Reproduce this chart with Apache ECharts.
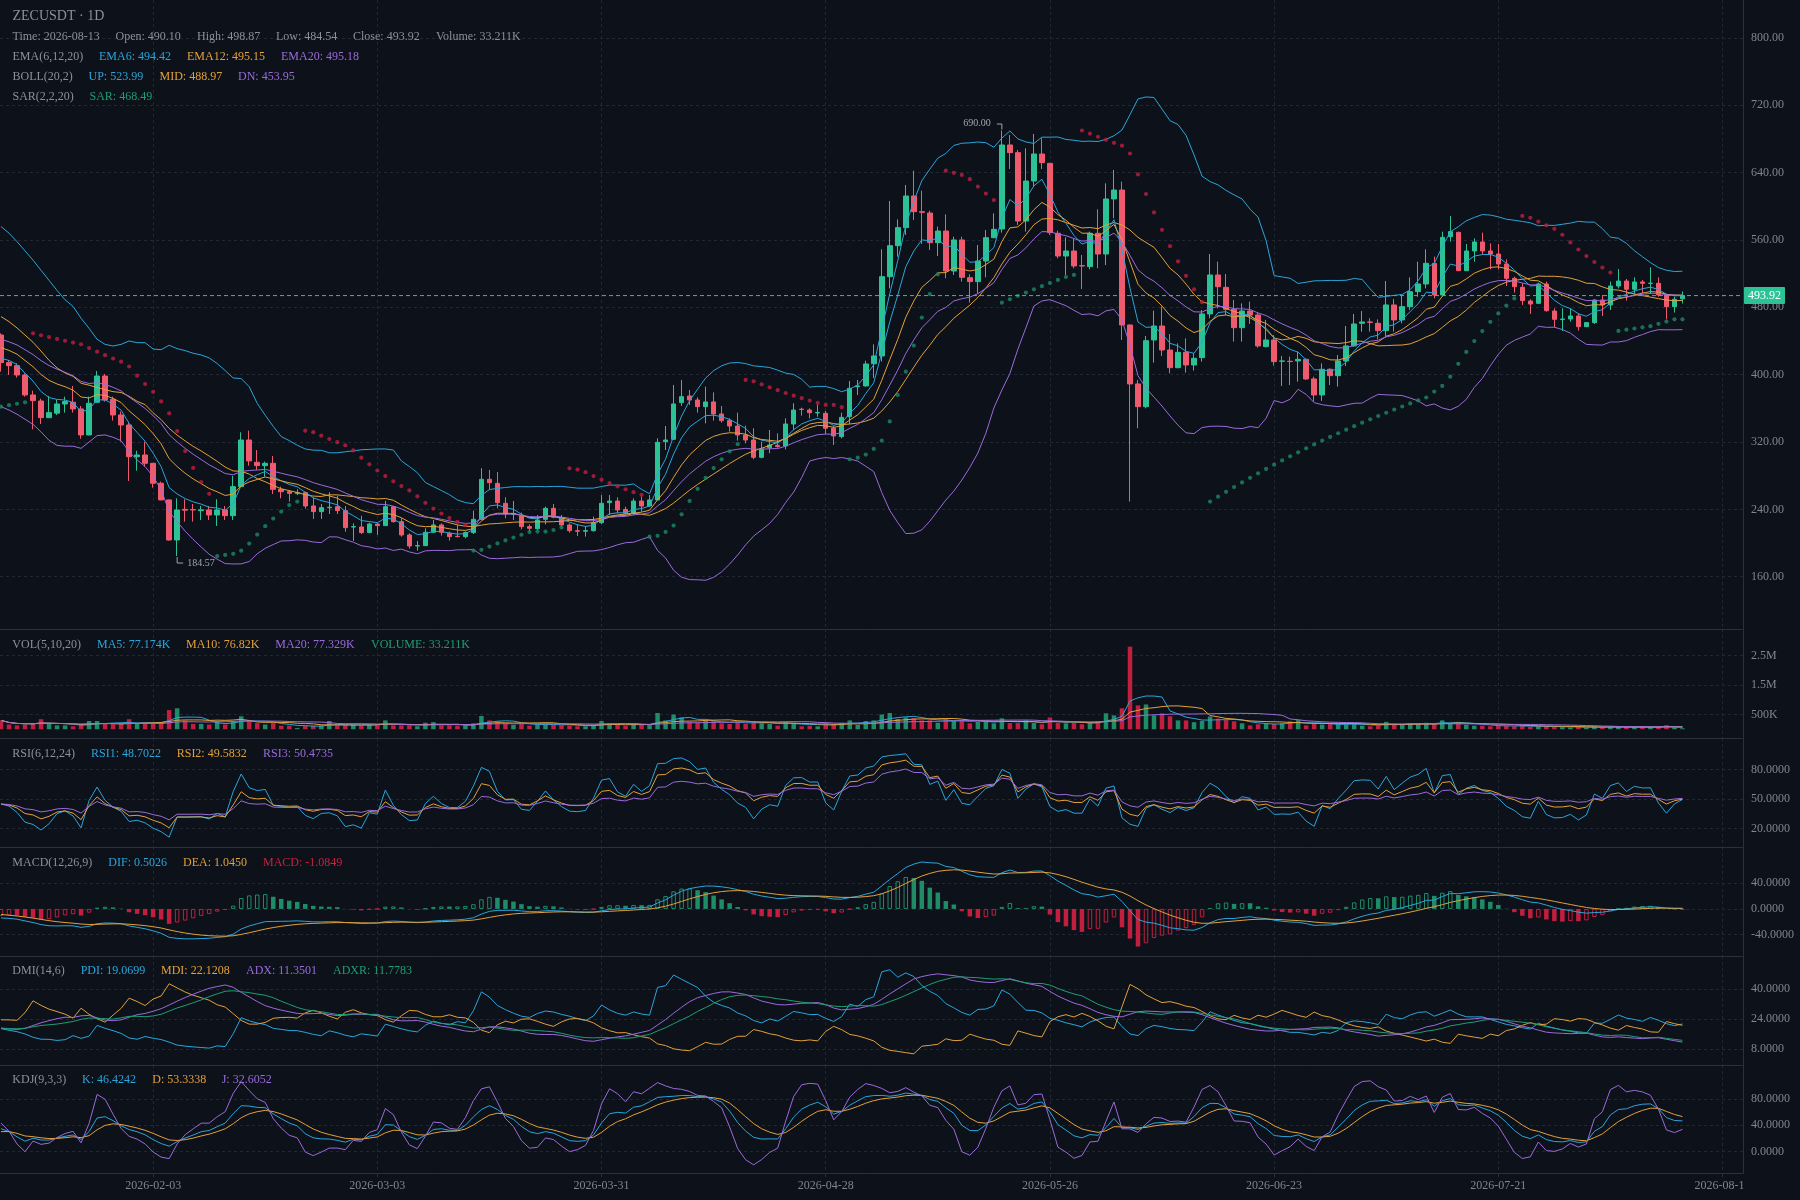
<!DOCTYPE html>
<html><head><meta charset="utf-8">
<script src="https://cdn.jsdelivr.net/npm/echarts@6/dist/echarts.min.js"></script>
<style>html,body{margin:0;padding:0;background:#0d111a;}#c{width:1800px;height:1200px;}</style>
</head><body><div id="c"></div>
<script>
// ---------------- DATA ----------------
const startDate = '2026-01-15';
const xTickLabels = ['2026-02-03','2026-03-03','2026-03-31','2026-04-28','2026-05-26','2026-06-23','2026-07-21','2026-08-18'];

const open = [447.1,414.3,410.7,399.6,375.9,368.7,348.9,354.3,365.2,367.2,359.3,328.4,367.2,398.4,370.7,352.1,340.2,302.6,304.6,294.7,
271.0,251.2,203.6,240.0,239.8,238.5,239.3,233.3,239.3,232.5,267.0,322.4,295.9,291.9,294.7,263.8,261.0,258.7,259.9,244.0,
237.3,242.0,243.2,238.5,219.0,219.1,212.4,222.6,220.7,243.2,225.4,209.6,196.5,196.9,212.8,221.5,211.6,208.0,207.6,212.4,
228.2,275.7,270.9,247.2,234.0,232.2,219.5,217.1,228.2,241.2,230.2,221.5,214.7,214.0,214.7,224.2,248.0,249.9,240.0,235.3,
249.9,244.0,251.2,320.4,323.2,366.8,374.7,369.9,362.0,367.6,353.3,345.4,339.0,328.3,322.4,301.8,313.3,316.1,315.3,341.4,
359.0,358.0,354.5,354.1,336.3,326.4,350.1,385.7,386.6,413.0,422.2,516.4,553.2,574.6,612.2,593.6,592.0,556.8,570.6,523.1,
560.0,515.2,510.5,535.0,562.7,573.0,672.8,663.7,582.5,630.0,662.1,651.0,567.9,540.9,546.9,529.5,528.3,567.9,543.3,608.7,
619.3,459.0,389.0,362.0,441.2,457.8,429.3,408.3,426.5,411.5,420.2,472.1,518.4,503.7,477.6,455.8,475.6,470.9,433.3,441.2,
415.9,415.9,416.3,418.2,394.9,375.9,406.4,398.8,416.3,434.1,461.0,462.6,461.0,452.3,482.8,465.0,480.8,498.6,507.7,532.2,
494.6,563.9,569.0,523.5,546.9,557.6,546.9,543.3,531.4,514.4,503.7,487.5,484.7,507.7,475.6,465.4,466.1,469.7,457.0,461.8,
488.7,482.8,505.3,511.2,501.4,510.1,508.3,508.5,494.6,480.8,490.10];

const close = [414.3,410.7,399.6,375.9,369.1,348.9,354.9,365.2,368.0,359.3,328.4,366.0,398.4,369.9,352.1,340.2,302.6,304.6,294.7,271.0,
251.2,203.6,239.3,239.0,239.3,239.5,233.3,239.3,232.5,267.0,322.4,297.5,291.9,294.7,263.8,261.0,259.0,259.8,244.0,237.3,
242.0,242.5,238.5,218.3,219.5,212.4,222.6,220.7,243.2,225.4,209.6,196.5,197.0,212.8,221.5,212.8,207.6,207.6,212.4,228.2,
275.7,271.7,248.0,234.5,235.0,219.5,217.5,227.4,241.2,230.6,221.5,214.7,214.0,214.8,224.2,247.2,249.9,239.3,235.3,249.9,
244.0,251.2,319.6,322.4,365.2,373.9,369.9,362.0,367.6,353.3,345.4,339.0,328.3,322.4,301.8,311.7,316.5,314.5,341.4,358.0,
358.6,354.9,355.0,336.3,327.2,349.3,383.8,386.6,412.7,422.2,516.4,553.2,574.6,612.2,593.6,592.8,556.8,570.6,523.1,560.0,
515.6,510.5,535.0,562.7,572.6,672.8,663.7,582.5,630.0,662.1,651.8,568.7,540.9,546.9,529.1,529.1,567.9,543.3,608.7,619.3,
459.0,389.0,362.0,440.4,457.8,429.3,408.3,426.5,411.5,419.4,472.1,518.4,504.5,477.6,455.8,475.6,470.9,434.1,441.2,415.5,
416.3,415.5,418.2,394.9,375.9,406.4,398.8,416.3,434.1,460.2,462.6,462.2,452.3,482.8,465.0,480.8,498.6,507.7,532.2,494.6,
563.1,569.9,523.5,546.9,557.6,546.9,543.3,531.4,514.4,504.5,487.9,483.9,507.7,476.0,465.7,466.1,469.7,457.0,461.8,488.7,
482.8,505.3,511.2,501.4,510.1,508.5,508.7,494.6,480.8,489.5,493.92];

const high = [449.1,417.4,413.5,401.6,381.0,371.5,374.7,370.0,373.9,386.6,362.8,373.9,404.4,400.8,373.9,356.1,344.2,309.7,320.4,295.1,
273.0,251.6,253.1,252.0,246.4,244.0,244.0,252.0,244.0,279.7,331.5,333.5,310.5,296.7,303.4,267.0,263.0,263.8,261.0,253.9,
246.4,260.3,256.3,244.0,223.4,232.5,224.2,223.4,250.0,243.6,229.4,211.6,202.5,217.5,227.4,223.4,213.6,221.5,214.0,238.5,
288.8,286.8,284.4,254.3,250.0,236.1,222.2,233.3,243.2,246.4,233.3,223.4,222.2,220.3,231.4,257.0,257.0,254.3,243.2,253.1,
255.0,257.0,324.4,339.0,387.7,393.7,381.8,373.1,385.7,379.0,362.8,348.1,354.9,339.4,336.3,320.4,334.3,330.3,348.1,366.0,
360.8,360.0,364.0,356.9,339.0,354.9,392.5,393.7,416.6,436.0,548.9,606.3,584.5,625.3,642.3,618.5,594.8,575.8,590.4,563.9,
563.9,519.2,554.0,571.8,591.6,690.0,684.7,666.9,668.8,685.9,680.7,651.4,571.0,563.1,561.9,542.1,569.9,596.4,627.3,643.1,
629.2,459.4,393.7,446.0,476.0,480.8,448.3,437.2,443.2,425.4,476.8,543.3,534.2,519.6,488.7,484.7,486.7,473.7,465.0,447.1,
422.2,421.4,427.3,419.4,397.6,413.5,407.5,423.4,457.8,472.1,475.6,467.0,465.7,511.3,489.9,494.6,515.6,534.2,548.9,540.2,
569.9,588.5,569.9,555.2,561.9,568.7,556.0,555.2,537.0,516.4,508.5,489.5,509.3,510.5,478.8,478.8,478.8,472.9,462.5,489.5,
494.6,510.5,525.5,513.6,515.6,512.4,527.5,515.6,495.4,492.6,498.87];

const low = [403.6,399.6,396.5,373.9,335.1,341.4,348.5,352.1,354.9,354.9,323.9,328.0,366.8,368.0,345.4,320.4,273.7,286.0,290.8,265.8,
250.8,202.8,184.57,225.4,225.4,227.4,227.4,220.3,227.4,227.4,266.6,291.9,286.8,278.9,258.3,253.1,249.2,257.0,240.8,228.6,
228.6,234.5,234.5,213.5,202.5,210.8,211.6,209.6,220.3,224.2,207.6,193.4,191.0,196.5,212.4,208.8,202.9,206.8,205.6,210.8,
227.4,263.0,241.2,229.4,227.4,216.3,213.6,215.5,222.2,229.4,219.5,212.4,208.4,207.6,213.5,222.6,233.3,235.3,233.3,233.3,
237.3,243.2,251.2,310.5,322.4,362.8,364.0,354.9,342.2,345.4,343.0,332.3,321.6,318.5,299.5,300.6,306.6,313.3,311.3,334.3,
351.3,348.1,350.1,329.5,316.5,324.4,341.4,375.8,385.7,396.0,415.5,502.5,540.2,565.9,583.7,555.2,548.1,541.0,514.4,518.4,
510.5,485.5,496.6,515.6,562.0,568.7,644.3,577.8,569.9,623.3,644.3,565.9,538.2,518.4,526.3,501.8,525.1,526.3,530.2,585.7,
441.2,249.2,336.3,360.0,414.3,422.2,401.6,407.5,402.4,404.8,415.5,467.0,478.8,470.9,439.2,439.2,460.2,432.1,432.5,410.7,
386.6,387.7,391.7,393.7,368.0,368.8,387.7,385.8,410.3,433.3,451.1,451.1,442.0,446.0,451.1,461.0,476.8,492.6,502.5,490.7,
492.6,558.0,523.1,523.1,534.2,542.1,525.1,525.1,505.3,497.4,482.8,472.1,483.9,474.8,456.2,451.9,463.0,452.3,456.6,460.2,
469.7,476.8,502.5,487.9,495.8,496.6,495.8,492.6,465.7,473.7,484.54];

// volume in thousands
const volumeK = [300,160,130,160,180,340,180,130,130,100,130,280,280,180,180,180,340,180,220,180,
220,650,710,300,180,180,160,280,160,280,440,280,210,160,210,120,120,40,120,120,
130,280,130,160,160,130,160,130,300,130,130,130,100,220,240,130,130,120,130,200,
450,300,280,200,150,180,120,150,200,150,140,120,100,100,150,280,200,180,120,180,
150,140,550,300,500,400,250,220,300,280,200,180,250,180,280,200,180,120,250,220,
100,120,100,200,180,220,300,150,280,300,500,550,350,400,380,300,300,220,350,280,
300,200,250,280,200,370,210,210,300,210,170,400,220,200,220,170,210,270,540,470,
710,2800,810,840,470,540,440,300,300,240,280,430,360,310,270,200,130,170,200,180,
210,270,310,130,180,160,180,160,170,200,120,100,120,250,180,150,200,180,220,200,
300,180,250,150,120,120,100,120,120,100,120,80,100,100,80,70,60,80,50,90,
70,90,75,80,70,72,70,80,140,60,33.211];

// Indicator state at the first visible candle
const bollUpHead = [576,568,558,547,536,524,512,500,489,481,467,455,442,436,434,436,440,438,438];
const bollDnHead = [362,358,353,347,341,332,322,316,315,315,312.5,320,327.6,328.4,325.6,321.6,308.6,298.7,290.8];
const emaSeed = {e6:419.4, e12:432.1, e20:442.0, e26:446.1, dea:-8.5};
const sarSeed = {sar:362, ep:449.1, af:0.02, up:true};
const rsiSeed = {up:6.5, dn:8};
const kdjSeed = {k:34.8, d:30.4};
const dmiSeed = {tr:420, pdm:79, mdm:99, adx:19.1};

// axis tick values
const priceTicks = [160,240,320,400,480,560,640,720,800];
const volTicks = [500000,1500000,2500000];
const rsiTicks = [20,50,80];
const macdTicks = [-40,0,40];
const dmiTicks = [8,24,40];
const kdjTicks = [0,40,80];

const legendRows = [
  {y:16, size:14, items:[['ZECUSDT · 1D',12.5,'t']]},
  {y:36.7, items:[['Time: 2026-08-13',12.5,'t'],['Open: 490.10',115.5,'t'],['High: 498.87',197,'t'],['Low: 484.54',276,'t'],['Close: 493.92',353,'t'],['Volume: 33.211K',436,'t']]},
  {y:56.7, items:[['EMA(6,12,20)',12.5,'t'],['EMA6: 494.42',99,'b'],['EMA12: 495.15',187,'o'],['EMA20: 495.18',281,'p']]},
  {y:76.7, items:[['BOLL(20,2)',12.5,'t'],['UP: 523.99',88.5,'b'],['MID: 488.97',159.5,'o'],['DN: 453.95',238,'p']]},
  {y:96.7, items:[['SAR(2,2,20)',12.5,'t'],['SAR: 468.49',89.5,'g']]},
  {y:645, items:[['VOL(5,10,20)',12.3,'t'],['MA5: 77.174K',97,'b'],['MA10: 76.82K',186,'o'],['MA20: 77.329K',275.3,'p'],['VOLUME: 33.211K',371,'g']]},
  {y:753.7, items:[['RSI(6,12,24)',12.3,'t'],['RSI1: 48.7022',91,'b'],['RSI2: 49.5832',176.7,'o'],['RSI3: 50.4735',263,'p']]},
  {y:862.5, items:[['MACD(12,26,9)',12.3,'t'],['DIF: 0.5026',108.3,'b'],['DEA: 1.0450',183,'o'],['MACD: -1.0849',263,'r']]},
  {y:971.3, items:[['DMI(14,6)',12.3,'t'],['PDI: 19.0699',80.7,'b'],['MDI: 22.1208',161,'o'],['ADX: 11.3501',246,'p'],['ADXR: 11.7783',333,'g']]},
  {y:1080, items:[['KDJ(9,3,3)',12.3,'t'],['K: 46.4242',82,'b'],['D: 53.3338',152.3,'o'],['J: 32.6052',221.7,'p']]}
];

// ---------------- STYLE ----------------
const UP='#2CC295', DN='#EF5A6F', VUP='#1F8C68', VDN='#C21E3E';
const BLUE='#2BA5DA', ORANGE='#E3A13A', PURPLE='#9B6BDB', GREEN='#1F9E74', RED='#C8203F';
const TXT='#8B909B', AX='#7F8591', BG='#0D111A', GRIDC='#222733', SEP='#2B303B';
const FONT='Liberation Serif';
const COLMAP = {t:TXT,b:BLUE,o:ORANGE,p:PURPLE,g:GREEN,r:RED};

// ---------------- INDICATORS (derived from the candles) ----------------
const N = close.length;
const volume = volumeK.map(v=>v*1000);
function emaCalc(src,n,seed){const out=[];let e=seed;for(let i=0;i<src.length;i++){if(i>0)e=(2*src[i]+(n-1)*e)/(n+1);out.push(e);}return out;}
const ema6=emaCalc(close,6,emaSeed.e6), ema12=emaCalc(close,12,emaSeed.e12), ema20=emaCalc(close,20,emaSeed.e20);
const ema26=emaCalc(close,26,emaSeed.e26);

const bollUp=[],bollMid=[],bollDn=[];
for(let i=0;i<N;i++){
  if(i<19){bollUp.push(bollUpHead[i]);bollDn.push(bollDnHead[i]);bollMid.push((bollUpHead[i]+bollDnHead[i])/2);continue;}
  let s=0;for(let k=i-19;k<=i;k++)s+=close[k];const m=s/20;
  let v=0;for(let k=i-19;k<=i;k++)v+=(close[k]-m)*(close[k]-m);const sd=Math.sqrt(v/20);
  bollMid.push(m);bollUp.push(m+2*sd);bollDn.push(m-2*sd);
}

const sarVal=[],sarUp=[];
{let up=sarSeed.up,sar=sarSeed.sar,ep=sarSeed.ep,af=sarSeed.af;sarVal.push(sar);sarUp.push(up);
 for(let i=1;i<N;i++){let s=sar+af*(ep-sar);
  if(up){s=Math.min(s,low[i-1],low[Math.max(0,i-2)]);
    if(low[i]<s){up=false;s=ep;ep=low[i];af=0.02;} else if(high[i]>ep){ep=high[i];af=Math.min(af+0.02,0.2);} }
  else{s=Math.max(s,high[i-1],high[Math.max(0,i-2)]);
    if(high[i]>s){up=true;s=ep;ep=high[i];af=0.02;} else if(low[i]<ep){ep=low[i];af=Math.min(af+0.02,0.2);} }
  sar=s;sarVal.push(sar);sarUp.push(up);}
}

function maCalc(src,n){const out=[];for(let i=0;i<src.length;i++){let s=0,c=0;for(let k=Math.max(0,i-n+1);k<=i;k++){s+=src[k];c++;}out.push(s/c);}return out;}
const vma5=maCalc(volume,5), vma10=maCalc(volume,10), vma20=maCalc(volume,20);

// RSI with SMA(N,1) smoothing
function rsiCalc(n){const out=[];let u=rsiSeed.up,d=rsiSeed.dn;
  for(let i=0;i<N;i++){if(i>0){const t=close[i]-close[i-1];u=(Math.max(t,0)+(n-1)*u)/n;d=(Math.max(-t,0)+(n-1)*d)/n;}
    out.push(u+d===0?0:100*u/(u+d));}return out;}
const rsi1=rsiCalc(6), rsi2=rsiCalc(12), rsi3=rsiCalc(24);

const dif=[],dea=[],macd=[];
for(let i=0;i<N;i++){const d=ema12[i]-ema26[i];dif.push(d);const e=i===0?emaSeed.dea:(2*d+8*dea[i-1])/10;dea.push(e);macd.push((d-e)*2);}

const pdi=[],mdi=[],adx=[],adxr=[];
{let mtr=dmiSeed.tr,dmp=dmiSeed.pdm,dmm=dmiSeed.mdm,ax=dmiSeed.adx;
 for(let i=0;i<N;i++){
  if(i>0){const pc=close[i-1],h=high[i],l=low[i];
   const tr=Math.max(h-l,Math.abs(h-pc),Math.abs(pc-l));const hhy=h-high[i-1],lyl=low[i-1]-l;
   const pd=(hhy>0&&hhy>lyl)?hhy:0, md=(lyl>0&&lyl>hhy)?lyl:0;
   mtr=mtr-mtr/14+tr;dmp=dmp-dmp/14+pd;dmm=dmm-dmm/14+md;}
  const p=dmp*100/mtr,m=dmm*100/mtr;pdi.push(p);mdi.push(m);
  if(i>0){const dx=(p+m)===0?0:Math.abs(m-p)/(p+m)*100;ax=(ax*13+dx)/14;}
  adx.push(ax);adxr.push((ax+(i>=5?adx[i-5]:dmiSeed.adx))/2);
 }}

const kK=[],kD=[],kJ=[];
for(let i=0;i<N;i++){
  if(i===0){kK.push(kdjSeed.k);kD.push(kdjSeed.d);kJ.push(3*kdjSeed.k-2*kdjSeed.d);continue;}
  let hh=-Infinity,ll=Infinity;for(let k=Math.max(0,i-8);k<=i;k++){hh=Math.max(hh,high[k]);ll=Math.min(ll,low[k]);}
  const rsv=hh===ll?0:(close[i]-ll)/(hh-ll)*100;const K=(2*kK[i-1]+rsv)/3;const D=(2*kD[i-1]+K)/3;
  kK.push(K);kD.push(D);kJ.push(3*K-2*D);
}

// ---------------- CHART ----------------
const DAY=86400000, t0=Date.parse(startDate);
const tickIdx = xTickLabels.map(s=>Math.round((Date.parse(s)-t0)/DAY));
function dateOf(i){return new Date(t0+Math.round(i)*DAY).toISOString().slice(0,10);}
const pts = a => a.map((v,i)=>[i,v]);

const panels = [
  {top:0,height:629,min:97.9,max:845,ticks:priceTicks,fmt:v=>v.toFixed(2)},
  {top:629,height:109,min:-297000,max:3398000,ticks:volTicks,fmt:v=>v>=1e6?(v/1e6)+'M':(v/1e3)+'K'},
  {top:738,height:109,min:1.0,max:112.2,ticks:rsiTicks,fmt:v=>v.toFixed(4)},
  {top:847,height:109,min:-73.1,max:96.2,ticks:macdTicks,fmt:v=>v.toFixed(4)},
  {top:956,height:109,min:-0.6,max:57.7,ticks:dmiTicks,fmt:v=>v.toFixed(4)},
  {top:1065,height:108,min:-32.5,max:131.7,ticks:kdjTicks,fmt:v=>v.toFixed(4)}
];
const PLOT_W=1743;
const X_MIN=-0.125, X_MAX=217.56;

const grid = panels.map(p=>({left:0,top:p.top,width:PLOT_W,height:p.height}));
const xAxis = panels.map((p,k)=>({type:'value',gridIndex:k,min:X_MIN,max:X_MAX,
  axisLine:{show:true,onZero:false,lineStyle:{color:SEP,width:1}},
  axisTick:{show:k===5,length:4,customValues:tickIdx,lineStyle:{color:SEP}},
  axisLabel:{show:k===5,customValues:tickIdx,formatter:v=>dateOf(v),color:AX,fontSize:12,fontFamily:FONT,margin:7},
  splitLine:{show:true,lineStyle:{color:GRIDC,type:[3,3]}}}));
const yAxis = panels.map((p,k)=>({type:'value',gridIndex:k,position:'right',min:p.min,max:p.max,
  axisLine:{show:true,onZero:false,lineStyle:{color:SEP,width:1}},
  axisTick:{show:false,customValues:p.ticks},
  axisLabel:{customValues:p.ticks,formatter:p.fmt,color:AX,fontSize:12,fontFamily:FONT,margin:8},
  splitLine:{show:true,lineStyle:{color:GRIDC,type:[3,3]}}}));

function line(data,color,k){return {type:'line',xAxisIndex:k,yAxisIndex:k,data:pts(data),showSymbol:false,symbol:'none',
  lineStyle:{color:color,width:1},itemStyle:{color:color},silent:true,clip:true,z:3};}

const candles = close.map((c,i)=>[i,open[i],c,low[i],high[i]]);
let hiIdx=0,loIdx=0;for(let i=0;i<N;i++){if(high[i]>high[hiIdx])hiIdx=i;if(low[i]<low[loIdx])loIdx=i;}
const marks=[[hiIdx,high[hiIdx],0],[loIdx,low[loIdx],1],[N-1,close[N-1],2]];

const series = [
  {type:'candlestick',xAxisIndex:0,yAxisIndex:0,data:candles,encode:{x:0,y:[1,2,3,4]},barWidth:5,clip:true,
   itemStyle:{color:UP,color0:DN,borderColor:UP,borderColor0:DN,borderWidth:1},silent:true,z:2},
  line(bollUp,BLUE,0),line(bollMid,ORANGE,0),line(bollDn,PURPLE,0),
  line(ema6,BLUE,0),line(ema12,ORANGE,0),line(ema20,PURPLE,0),
  {type:'scatter',xAxisIndex:0,yAxisIndex:0,data:pts(sarVal),symbol:'circle',symbolSize:4.2,silent:true,z:4,
   itemStyle:{color:p=>sarUp[p.dataIndex]?'#1C8A66':'#C21E40'}},
  {type:'custom',xAxisIndex:0,yAxisIndex:0,data:marks,encode:{x:0,y:1},clip:false,silent:true,z:10,
   renderItem:(params,api)=>{
     const t=api.value(2),v=api.value(1);const p=api.coord([api.value(0),v]);const cs=params.coordSys;
     if(t===0)return{type:'group',children:[
       {type:'polyline',shape:{points:[[p[0],p[1]-1],[p[0],p[1]-6.5],[p[0]-5,p[1]-6.5]]},style:{stroke:'#A0A5AF',lineWidth:1,fill:null}},
       {type:'text',style:{text:v.toFixed(2),x:p[0]-11,y:p[1]-7,align:'right',verticalAlign:'middle',fill:'#A0A5AF',fontSize:10,fontFamily:FONT}}]};
     if(t===1)return{type:'group',children:[
       {type:'polyline',shape:{points:[[p[0],p[1]+1],[p[0],p[1]+7],[p[0]+6,p[1]+7]]},style:{stroke:'#A0A5AF',lineWidth:1,fill:null}},
       {type:'text',style:{text:v.toFixed(2),x:p[0]+10,y:p[1]+7,align:'left',verticalAlign:'middle',fill:'#A0A5AF',fontSize:10,fontFamily:FONT}}]};
     return{type:'group',children:[
       {type:'line',shape:{x1:cs.x,y1:p[1],x2:cs.x+cs.width,y2:p[1]},style:{stroke:UP,lineWidth:1,lineDash:[4,3]}},
       {type:'text',style:{text:v.toFixed(2),x:cs.x+cs.width+1,y:p[1],align:'left',verticalAlign:'middle',fill:'#FFFFFF',
         backgroundColor:UP,padding:[3,4,2,4],fontSize:12,fontFamily:FONT,borderRadius:1}}]};
   }},
  // volume
  {type:'bar',xAxisIndex:1,yAxisIndex:1,data:pts(volume),barWidth:4.5,silent:true,z:2,
   itemStyle:{color:p=>close[p.dataIndex]>=open[p.dataIndex]?VUP:VDN}},
  line(vma5,BLUE,1),line(vma10,ORANGE,1),line(vma20,PURPLE,1),
  // rsi
  line(rsi1,BLUE,2),line(rsi2,ORANGE,2),line(rsi3,PURPLE,2),
  // macd
  {type:'bar',xAxisIndex:3,yAxisIndex:3,barWidth:4.5,silent:true,z:2,
   data:macd.map((m,i)=>{const col=m>0?VUP:VDN;const prev=i>0?macd[i-1]:-Infinity;const hollow=prev<m;
     return {value:[i,m],itemStyle:hollow?{color:'rgba(0,0,0,0)',borderColor:col,borderWidth:1}:{color:col,borderColor:col,borderWidth:0}};})},
  line(dif,BLUE,3),line(dea,ORANGE,3),
  // dmi
  line(pdi,BLUE,4),line(mdi,ORANGE,4),line(adx,PURPLE,4),line(adxr,GREEN,4),
  // kdj
  line(kK,BLUE,5),line(kD,ORANGE,5),line(kJ,PURPLE,5)
];

const graphic = [];
legendRows.forEach(r=>r.items.forEach(([txt,x,c])=>graphic.push({type:'text',silent:true,z:20,
  style:{text:txt,x:x,y:r.y,verticalAlign:'middle',fill:COLMAP[c],fontSize:r.size||12,fontFamily:FONT}})));
graphic.push({type:'rect',silent:true,z:30,shape:{x:PLOT_W+0.5,y:1174,width:60,height:30},style:{fill:BG}});

const chart = echarts.init(document.getElementById('c'),null,{renderer:'canvas'});
chart.setOption({backgroundColor:BG,animation:false,textStyle:{fontFamily:FONT},
  grid,xAxis,yAxis,series,graphic});
</script></body></html>
